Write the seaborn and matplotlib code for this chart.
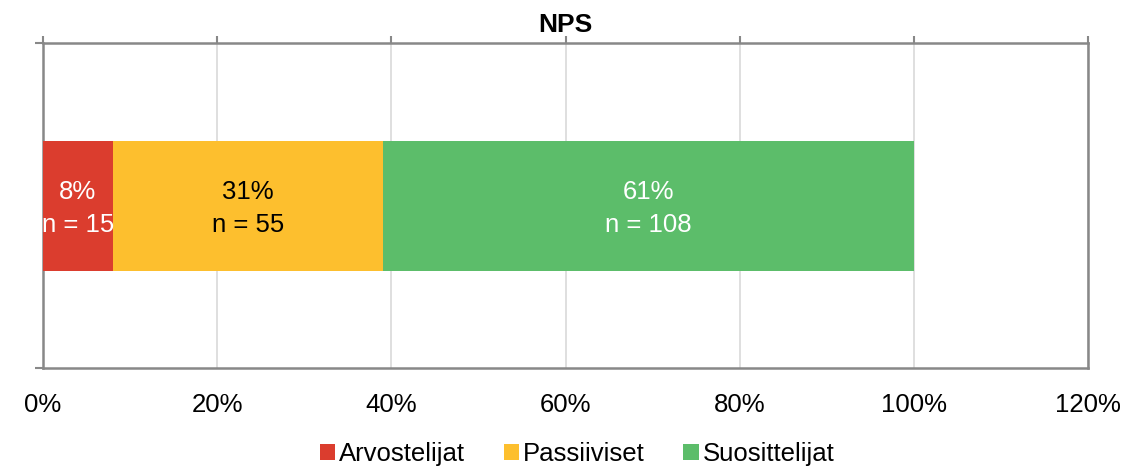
import numpy as np
import pandas as pd
import matplotlib
matplotlib.use("Agg")
import matplotlib.pyplot as plt
import seaborn as sns
from matplotlib.patches import Patch

categories = ["NPS"]
series = ["Arvostelijat", "Passiiviset", "Suosittelijat"]
percents = [8, 31, 61]
counts = [15, 55, 108]
colors = ["#DB3D2E", "#FDBF2E", "#5CBD6A"]
label_colors = ["white", "black", "white"]
xticks = [0, 20, 40, 60, 80, 100, 120]
xtick_labels = ["0%", "20%", "40%", "60%", "80%", "100%", "120%"]

sns.set_theme(style="white")
plt.rcParams['font.family'] = ['Liberation Sans', 'DejaVu Sans']
plt.rcParams['text.color'] = 'black'
plt.rcParams['xtick.color'] = 'black'
plt.rcParams['axes.titlecolor'] = 'black'

fig = plt.figure(figsize=(11.28, 4.69), dpi=100)
ax = fig.add_axes([43/1128, 1 - 368/469, (1088-43)/1128, (368-43)/469])

cum = np.cumsum(percents)
starts = cum - np.array(percents)
# draw from largest cumulative to smallest so they overlap into a stack
for i in reversed(range(len(series))):
    df = pd.DataFrame({"cat": categories, "val": [cum[i]]})
    sns.barplot(data=df, x="val", y="cat", color=colors[i], orient="h",
                width=0.4, ax=ax, saturation=1, edgecolor="none", linewidth=0,
                zorder=3)

for i in range(len(series)):
    ax.annotate(f"{percents[i]}%\nn = {counts[i]}", xy=(starts[i] + percents[i] / 2, 0),
                xytext=(0, -2), textcoords="offset points",
                ha="center", va="center", fontsize=18.5, color=label_colors[i],
                linespacing=1.45, zorder=5)

ax.set_xlim(0, 120)
ax.set_ylim(0.5, -0.5)
ax.set_xticks(xticks)
ax.set_xticklabels(xtick_labels, fontsize=18.5, color="black")
ax.set_yticks([-0.5, 0.5])
ax.set_yticklabels([])
ax.set_xlabel("")
ax.set_ylabel("")
ax.grid(axis="x", color="#D9D9D9", linewidth=1.2, zorder=0)
ax.tick_params(axis="x", which="major", top=True, bottom=False, length=5, width=1.5,
               color="#888888", direction="out", pad=13, labelcolor="black")
ax.tick_params(axis="y", which="major", length=6, width=1.5, color="#888888",
               left=True, direction="out")

for s in ["left", "top", "bottom", "right"]:
    ax.spines[s].set_visible(True)
    ax.spines[s].set_color("#888888")
    ax.spines[s].set_linewidth(1.8)

ax.set_title("NPS", fontsize=19, fontweight="bold", pad=8, color="black")

handles = [Patch(facecolor=c, edgecolor="none", label=s) for c, s in zip(colors, series)]
fig.legend(handles=handles, loc="center", bbox_to_anchor=(0.5115, 1 - 454/469), ncol=3,
           frameon=False, fontsize=18.5, handlelength=0.6, handleheight=0.6,
           handletextpad=0.15, columnspacing=1.5, labelcolor="black")

fig.savefig("out.png", dpi=100)
